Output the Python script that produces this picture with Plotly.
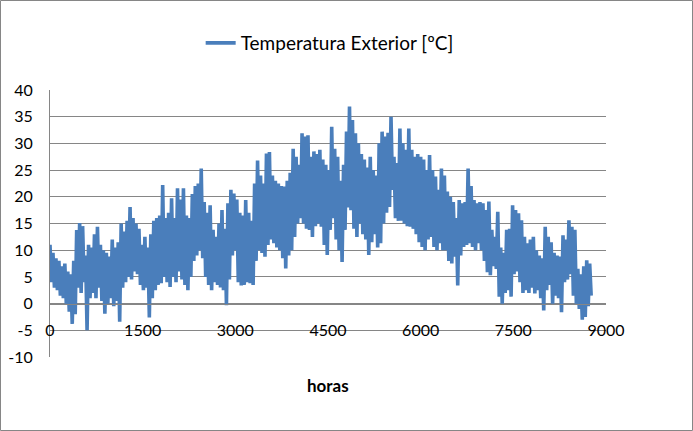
import plotly.graph_objects as go

# Two-day envelope: maximum then minimum temperature [ºC]
max_2day = [
    11.0, 9.5, 8.5, 8.0, 7.0, 7.5, 6.0, 5.5, 8.0, 13.8,
    15.1, 14.5, 9.0, 11.0, 10.5, 13.0, 14.4, 11.0, 10.0, 9.5,
    8.8, 12.0, 10.5, 11.5, 15.0, 13.5, 15.5, 18.1, 16.0, 15.0,
    14.0, 11.0, 12.5, 10.5, 13.0, 15.5, 16.0, 16.5, 22.2, 16.0,
    17.0, 19.7, 16.0, 21.6, 19.5, 21.6, 16.5, 16.0, 20.5, 22.0,
    22.5, 25.3, 19.0, 17.0, 18.4, 13.8, 12.5, 15.0, 17.5, 14.0,
    18.8, 21.3, 20.6, 19.5, 17.0, 16.5, 19.4, 17.0, 15.5, 22.5,
    26.8, 24.0, 22.5, 28.1, 28.4, 24.0, 23.0, 22.5, 22.0, 21.9,
    23.0, 24.5, 29.0, 27.5, 26.0, 31.9, 31.3, 31.5, 27.5, 28.5,
    28.0, 28.8, 27.0, 26.0, 25.0, 33.1, 29.0, 27.5, 23.0, 26.0,
    32.2, 36.9, 34.4, 31.9, 30.0, 28.0, 27.0, 25.5, 27.5, 25.0,
    24.0, 30.0, 32.2, 31.3, 32.0, 35.0, 27.5, 26.3, 32.8, 30.0,
    28.8, 32.8, 28.8, 27.5, 28.0, 27.5, 27.0, 25.0, 27.8, 25.0,
    23.8, 21.3, 25.3, 24.0, 21.0, 20.0, 19.0, 16.0, 19.4, 18.8,
    19.0, 25.3, 22.0, 19.4, 18.8, 19.0, 18.8, 17.5, 19.1, 13.8,
    12.5, 17.2, 10.5, 9.5, 13.8, 14.0, 18.4, 17.5, 16.9, 15.6,
    12.5, 11.3, 12.0, 12.5, 10.0, 9.0, 8.5, 14.4, 12.5, 11.5,
    9.5, 9.0, 8.8, 12.8, 12.0, 15.6, 14.4, 13.8, 6.5, 5.5,
    7.0, 8.1, 7.5,
]
min_2day = [
    4.0, 3.0, 2.5, 1.5, 1.0, 0.0, -1.5, -3.8, -2.0, 3.0,
    2.0, 4.0, -5.0, 1.0, 2.0, 1.0, 3.0, 0.5, -1.9, 0.0,
    1.0, -0.5, 0.5, -3.4, 3.0, 4.0, 5.0, 4.5, 6.0, 5.5,
    3.5, 2.5, 3.0, -2.6, 1.0, 2.5, 3.5, 3.8, 5.0, 4.0,
    3.1, 5.0, 4.0, 6.0, 4.5, 3.5, 2.5, 5.0, 8.0, 9.0,
    10.0, 8.5, 5.0, 3.5, 2.5, 4.0, 3.5, 3.0, 2.5, -0.3,
    4.5, 9.0, 10.0, 4.0, 3.4, 3.5, 4.0, 3.8, 3.5, 8.0,
    10.0, 9.5, 8.8, 11.0, 12.0, 11.3, 10.5, 10.0, 8.5, 6.6,
    9.0, 10.0, 12.5, 15.0, 16.0, 15.0, 14.0, 13.8, 12.5, 14.5,
    15.0, 14.4, 11.0, 9.1, 13.8, 16.0, 12.0, 10.0, 7.8, 13.8,
    18.0, 17.5, 14.0, 12.5, 15.0, 13.0, 12.0, 9.1, 11.5, 13.0,
    10.5, 11.3, 15.0, 17.0, 18.1, 21.3, 16.0, 15.5, 15.5, 15.0,
    14.5, 14.4, 14.0, 13.0, 11.5, 10.6, 10.0, 12.0, 12.5, 10.6,
    10.0, 11.3, 10.0, 10.0, 8.0, 7.5, 8.8, 3.4, 9.0, 10.6,
    11.0, 11.3, 10.6, 10.0, 11.3, 10.0, 8.0, 5.9, 5.3, 7.0,
    6.5, 1.3, 0.0, 2.0, 2.5, 1.3, 5.5, 6.0, 4.0, 2.0,
    2.5, 2.0, 3.0, 1.9, 2.5, 1.0, -1.3, 2.5, 3.5, 0.0,
    1.5, 1.0, -1.6, 4.0, 4.5, 5.5, 1.5, 0.0, -1.0, -3.0,
    -2.5, -0.5, 1.5,
]
x_ticks = [0, 1500, 3000, 4500, 6000, 7500, 9000]
y_ticks = [-10, -5, 0, 5, 10, 15, 20, 25, 30, 35, 40]

hours, temps = [], []
for k, (hi, lo) in enumerate(zip(max_2day, min_2day)):
    hours += [48 * k, 48 * k + 24]
    temps += [hi, lo]

GRID = "#868686"
FONT = "Lato"

fig = go.Figure()
fig.add_trace(go.Scatter(
    x=hours, y=temps, mode="lines",
    name="Temperatura Exterior [ºC]",
    line=dict(color="#4A7EBB", width=3.6, simplify=False),
))

fig.update_layout(
    width=693, height=431,
    margin=dict(l=50, r=87, t=90, b=74, autoexpand=False),
    paper_bgcolor="white", plot_bgcolor="white",
    font=dict(family=FONT, size=16, color="black"),
    showlegend=True,
    legend=dict(orientation="h", x=0.503, xanchor="center", y=1.176, yanchor="middle",
                font=dict(family=FONT, size=19), bgcolor="rgba(0,0,0,0)"),
    xaxis=dict(range=[0, 9000], tickvals=x_ticks, ticktext=[str(v) for v in x_ticks],
               anchor="free", position=0.2, showgrid=False, zeroline=False,
               showline=True, linecolor=GRID, linewidth=1, automargin=False,
               ticks="outside", ticklen=12, tickcolor="rgba(0,0,0,0)",
               tickfont=dict(family=FONT, size=16)),
    yaxis=dict(range=[-10, 40], tickvals=y_ticks, ticktext=[str(v) for v in y_ticks],
               showgrid=True, gridcolor=GRID, gridwidth=1, zeroline=False,
               showline=True, linecolor=GRID, linewidth=1, automargin=False,
               ticks="outside", ticklen=13, tickcolor="rgba(0,0,0,0)",
               tickfont=dict(family=FONT, size=16)),
    annotations=[dict(text="<b>horas</b>", x=0.5, y=-0.105, xref="paper", yref="paper",
                      showarrow=False, font=dict(family=FONT, size=17),
                      xanchor="center", yanchor="middle")],
    shapes=[dict(type="rect", xref="paper", yref="paper",
                 x0=(0.5 - 50) / 556, x1=(692.5 - 50) / 556,
                 y0=(357 - 430.5) / 267, y1=(357 - 0.5) / 267,
                 line=dict(color=GRID, width=1), fillcolor="rgba(0,0,0,0)", layer="below")],
)

fig.write_html(
    "out.html",
    config={"displayModeBar": False},
    post_script="document.body.style.margin='0';document.body.style.overflow='hidden';",
)
